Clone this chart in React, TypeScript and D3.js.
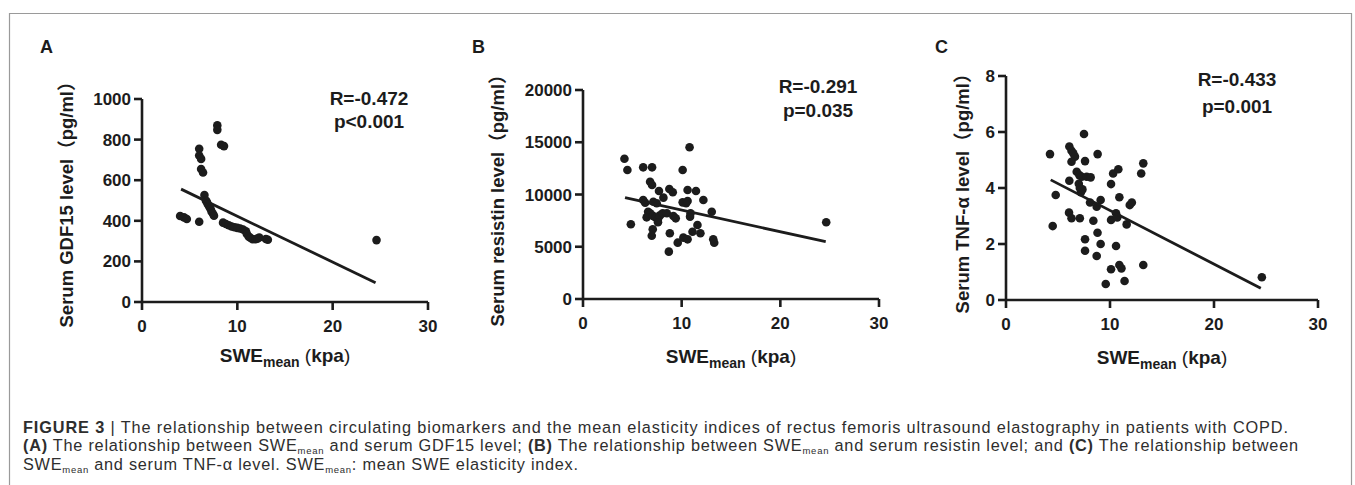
import React from "react";
import * as d3 from "d3";

// SWEmean (kpa) vs serum GDF15 (pg/ml)
const gdf15Points: [number, number][] = [
  [4.0, 424], [4.4, 417], [4.7, 409], [6.0, 395], [6.0, 755], [6.0, 722], [6.2, 705],
  [6.2, 655], [6.4, 638], [6.55, 527], [6.7, 500], [6.8, 494], [6.9, 482], [7.05, 470],
  [7.2, 458], [7.3, 445], [7.45, 435], [7.55, 425], [7.9, 870], [7.9, 848], [8.3, 775],
  [8.6, 768], [8.5, 391], [8.8, 384], [9.1, 378], [9.4, 372], [9.7, 368], [10.0, 365],
  [10.3, 362], [10.6, 357], [10.9, 348], [11.0, 335], [11.2, 322], [11.4, 315], [11.6, 309],
  [11.9, 309], [12.1, 312], [12.3, 318], [13.0, 310], [13.2, 307], [24.6, 305],
];
const gdf15Fit: [number, number][] = [[4.1, 556], [24.5, 95]];

// SWEmean vs serum resistin (pg/ml)
const resistinPoints: [number, number][] = [
  [4.2, 13425], [4.5, 12345], [4.85, 7150], [6.1, 12600], [7.0, 12600], [6.8, 11225],
  [7.0, 10910], [6.1, 9470], [6.3, 9215], [6.6, 8350], [6.8, 8200], [6.45, 7815],
  [7.13, 9310], [7.47, 9160], [7.1, 7950], [7.35, 7800], [7.6, 7650], [7.8, 8000],
  [7.07, 6670], [6.97, 6060], [7.6, 7340], [7.7, 10335], [8.15, 9700], [8.08, 8200],
  [8.5, 8200], [8.75, 10530], [9.1, 10210], [8.8, 6290], [9.16, 7940], [9.4, 7720],
  [8.7, 4530], [9.6, 5390], [10.1, 12345], [10.1, 9250], [10.45, 9160], [10.6, 9380],
  [10.17, 5870], [10.6, 5710], [10.6, 10430], [10.8, 14520], [10.85, 7880], [10.9, 8200],
  [11.1, 6440], [11.45, 10335], [11.6, 7080], [11.9, 6290], [12.2, 9470], [13.05, 8350],
  [13.2, 5710], [13.3, 5390], [24.65, 7340],
];
const resistinFit: [number, number][] = [[4.26, 9695], [24.6, 5485]];

// SWEmean vs serum TNF-α (pg/ml)
const tnfPoints: [number, number][] = [
  [4.23, 5.21], [4.78, 3.75], [4.49, 2.64], [6.09, 5.48], [6.3, 5.33], [6.47, 5.24],
  [6.63, 5.12], [6.3, 4.94], [6.09, 4.26], [6.8, 4.58], [7.05, 4.46], [7.28, 4.4],
  [7.6, 4.96], [7.5, 5.93], [7.76, 4.4], [8.14, 4.38], [7.0, 4.15], [7.1, 4.0],
  [7.2, 3.85], [7.35, 3.95], [8.81, 5.21], [6.06, 3.12], [6.3, 2.92], [7.1, 2.92],
  [8.08, 3.48], [8.72, 3.33], [9.1, 3.57], [8.4, 2.83], [7.6, 2.17], [7.6, 1.76],
  [8.8, 2.4], [9.1, 2.0], [8.72, 1.57], [9.59, 0.57], [10.1, 4.14], [10.3, 4.52],
  [10.8, 4.67], [10.1, 2.86], [10.58, 3.1], [10.7, 2.95], [10.9, 3.67], [10.58, 1.93],
  [10.1, 1.1], [10.9, 1.25], [11.1, 1.13], [11.4, 0.68], [11.6, 2.7], [11.9, 3.39],
  [12.1, 3.48], [13.0, 4.52], [13.2, 4.88], [13.2, 1.25], [24.6, 0.81],
];
const tnfFit: [number, number][] = [[4.3, 4.29], [24.5, 0.42]];

const xTicks = [0, 10, 20, 30];
const gdf15Ticks = [0, 200, 400, 600, 800, 1000];
const resistinTicks = [0, 5000, 10000, 15000, 20000];
const tnfTicks = [0, 2, 4, 6, 8];

const panelLetters = ["A", "B", "C"];
const yTitles = ["Serum GDF15 level（pg/ml）", "Serum resistin level（pg/ml）", "Serum TNF-α level（pg/ml）"];
const rTexts = ["R=-0.472", "R=-0.291", "R=-0.433"];
const pTexts = ["p<0.001", "p=0.035", "p=0.001"];

const FONT = "'Liberation Sans', Arial, 'Noto Sans CJK SC', sans-serif";
const INK = "#1c1c1c";

const layout = [
  { x0: 142, x1: 428, y0: 302, y1: 99, letterX: 40, titleX: 73, titleY: 200, statX: 369, rY: 105, pY: 128, xLabY: 362 },
  { x0: 583, x1: 879, y0: 299, y1: 90, letterX: 472, titleX: 504, titleY: 196, statX: 818, rY: 93, pY: 117, xLabY: 363 },
  { x0: 1006, x1: 1318, y0: 300, y1: 76, letterX: 935, titleX: 969, titleY: 189, statX: 1237, rY: 86, pY: 113, xLabY: 364 },
];

const panels = [
  { points: gdf15Points, fit: gdf15Fit, yTicks: gdf15Ticks },
  { points: resistinPoints, fit: resistinFit, yTicks: resistinTicks },
  { points: tnfPoints, fit: tnfFit, yTicks: tnfTicks },
];

function Panel({ i }: { i: number }) {
  const L = layout[i];
  const P = panels[i];
  const x = d3.scaleLinear().domain([0, 30]).range([L.x0, L.x1]);
  const yMax = P.yTicks[P.yTicks.length - 1];
  const y = d3.scaleLinear().domain([0, yMax]).range([L.y0, L.y1]);
  const line = d3.line<[number, number]>().x(d => x(d[0])).y(d => y(d[1]));
  const tick = 8;
  return (
    <g fontFamily={FONT} fontWeight="bold" fill={INK}>
      <text x={L.letterX} y={53} fontSize={18}>{panelLetters[i]}</text>
      {/* axes */}
      <line x1={L.x0} x2={L.x0} y1={L.y1} y2={L.y0} stroke={INK} strokeWidth={2.6} />
      <line x1={L.x0} x2={L.x1} y1={L.y0} y2={L.y0} stroke={INK} strokeWidth={2.6} />
      {P.yTicks.map(t => (
        <g key={"y" + t}>
          <line x1={L.x0 - tick} x2={L.x0} y1={y(t)} y2={y(t)} stroke={INK} strokeWidth={2.6} />
          <text x={L.x0 - tick - 3} y={y(t) + 6} fontSize={17} textAnchor="end">{t}</text>
        </g>
      ))}
      {xTicks.map(t => (
        <g key={"x" + t}>
          <line x1={x(t)} x2={x(t)} y1={L.y0} y2={L.y0 + tick} stroke={INK} strokeWidth={2.6} />
          <text x={x(t)} y={L.y0 + 30} fontSize={17} textAnchor="middle">{t}</text>
        </g>
      ))}
      <text transform={`translate(${L.titleX},${L.titleY}) rotate(-90)`} fontSize={18.5} textAnchor="middle">
        {yTitles[i]}
      </text>
      <text x={(L.x0 + L.x1) / 2} y={L.xLabY} fontSize={19} textAnchor="middle">
        <tspan>SWE</tspan>
        <tspan fontSize={14} dy={5}>mean</tspan>
        <tspan dy={-5} fontWeight="normal"> (</tspan>
        <tspan>kpa</tspan>
        <tspan fontWeight="normal">)</tspan>
      </text>
      <text x={L.statX} y={L.rY} fontSize={19} textAnchor="middle">{rTexts[i]}</text>
      <text x={L.statX} y={L.pY} fontSize={19} textAnchor="middle">{pTexts[i]}</text>
      {/* points and regression line */}
      {P.points.map((d, k) => (
        <circle key={k} cx={x(d[0])} cy={y(d[1])} r={4.3} fill={INK} />
      ))}
      <path d={line(P.fit) || ""} stroke={INK} strokeWidth={2.8} fill="none" />
    </g>
  );
}

function Sub({ children }: { children: string }) {
  return <tspan fontSize={9.5} dy={3}>{children}</tspan>;
}

export default function App() {
  const cap = { fontFamily: FONT, fontSize: 16.3, fill: "#2e2e2e" };
  return (
    <svg width={1355} height={485} style={{ position: "absolute", left: 0, top: 0, background: "#fff" }}>
      <path d="M9.5,485 V13.5 H1351.5 V485" fill="none" stroke="#9a9a9a" strokeWidth={1.2} />
      {[0, 1, 2].map(i => <Panel key={i} i={i} />)}
      <text x={23} y={433} {...cap} textLength={1265} lengthAdjust="spacing">
        <tspan fontWeight="bold">FIGURE 3</tspan>
        <tspan> | The relationship between circulating biomarkers and the mean elasticity indices of rectus femoris ultrasound elastography in patients with COPD.</tspan>
      </text>
      <text x={23} y={451} {...cap} textLength={1275} lengthAdjust="spacing">
        <tspan fontWeight="bold">(A)</tspan>
        <tspan> The relationship between SWE</tspan><Sub>mean</Sub>
        <tspan dy={-3}> and serum GDF15 level; </tspan>
        <tspan fontWeight="bold">(B)</tspan>
        <tspan> The relationship between SWE</tspan><Sub>mean</Sub>
        <tspan dy={-3}> and serum resistin level; and </tspan>
        <tspan fontWeight="bold">(C)</tspan>
        <tspan> The relationship between</tspan>
      </text>
      <text x={23} y={470} {...cap} textLength={555} lengthAdjust="spacing">
        <tspan>SWE</tspan><Sub>mean</Sub>
        <tspan dy={-3}> and serum TNF-α level. SWE</tspan><Sub>mean</Sub>
        <tspan dy={-3}>: mean SWE elasticity index.</tspan>
      </text>
    </svg>
  );
}
